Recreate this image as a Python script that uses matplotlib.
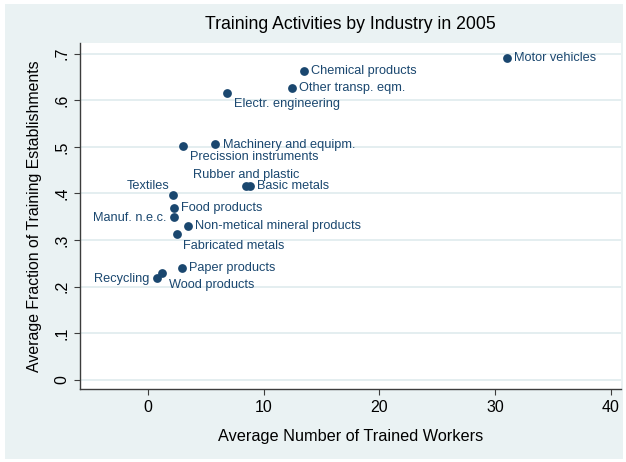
#!/usr/bin/env python3
"""Scatter of training activities by industry, 2005 (Stata s2color look)."""

import matplotlib

matplotlib.use("Agg")

import matplotlib.pyplot as plt
from matplotlib.patches import Rectangle

industries = [
    "Motor vehicles", "Chemical products", "Other transp. eqm.", "Electr. engineering",
    "Machinery and equipm.", "Precission instruments", "Rubber and plastic", "Basic metals",
    "Textiles", "Food products", "Manuf. n.e.c.", "Non-metical mineral products",
    "Fabricated metals", "Paper products", "Wood products", "Recycling",
]
trained_workers = [31.04, 13.44, 12.44, 6.85, 5.79, 3.05, 8.47, 8.84,
                   2.16, 2.25, 2.25, 3.48, 2.47, 2.90, 1.24, 0.74]
frac_training = [0.692, 0.662, 0.627, 0.615, 0.506, 0.501, 0.416, 0.415,
                 0.396, 0.369, 0.349, 0.329, 0.312, 0.240, 0.228, 0.218]

# label placement (clock position style): offset in px and horizontal alignment
label_pos = {
    "Motor vehicles": (7, 0, "left"),
    "Chemical products": (7, 0, "left"),
    "Other transp. eqm.": (7, 0, "left"),
    "Electr. engineering": (6.5, -11, "left"),
    "Machinery and equipm.": (7.5, -1, "left"),
    "Precission instruments": (7, -10.5, "left"),
    "Rubber and plastic": (0, 10.5, "center"),
    "Basic metals": (6.5, 0, "left"),
    "Textiles": (-4, 9.5, "right"),
    "Food products": (7, -0.5, "left"),
    "Manuf. n.e.c.": (-7.5, -1, "right"),
    "Non-metical mineral products": (7, 0, "left"),
    "Fabricated metals": (6.5, -11.5, "left"),
    "Paper products": (7.5, -0.5, "left"),
    "Wood products": (6.3, -11.5, "left"),
    "Recycling": (-7, -0.5, "right"),
}

NAVY = "#1a476f"
BG = "#eaf2f3"
W, H = 626, 462

plt.rcParams["font.family"] = ["Liberation Sans", "DejaVu Sans"]

fig = plt.figure(figsize=(W / 100, H / 100), dpi=100, facecolor="white")
fig.add_artist(Rectangle((5 / W, 3 / H), 618 / W, 455 / H, transform=fig.transFigure,
                         facecolor=BG, edgecolor="none", zorder=-10))

ax = fig.add_axes([80 / W, (H - 389.3) / H, (621 - 80) / W, (389.3 - 43) / H])
ax.set_facecolor("white")

ax.scatter(trained_workers, frac_training, s=40, color=NAVY, zorder=3, linewidths=0)
for name, x, y in zip(industries, trained_workers, frac_training):
    dx, dy, ha = label_pos[name]
    ax.annotate(name, (x, y), xytext=(dx * 0.72, dy * 0.72), textcoords="offset points",
                ha=ha, va="center", fontsize=9.2, color=NAVY, zorder=4)

ax.set_xlim(-5.88, 40.87)
ax.set_ylim(-0.0208, 0.7232)
ax.set_xticks([0, 10, 20, 30, 40])
yt = [0, 0.1, 0.2, 0.3, 0.4, 0.5, 0.6, 0.7]
ax.set_yticks(yt)
ax.set_yticklabels(["0"] + [f".{i}" for i in range(1, 8)], rotation=90, va="center")
ax.grid(axis="y", color="#e4eef0", linewidth=1.4, zorder=1)
ax.set_axisbelow(True)

for side in ("top", "right"):
    ax.spines[side].set_visible(False)
for side in ("left", "bottom"):
    ax.spines[side].set_color("#3c3c3c")
    ax.spines[side].set_linewidth(1.0)
ax.tick_params(axis="both", direction="out", length=4.5, width=0.8, color="#3c3c3c",
               labelsize=11.5, pad=3)

ax.set_xlabel("Average Number of Trained Workers", fontsize=11.7, labelpad=10)
ax.set_ylabel("Average Fraction of Training Establishments", fontsize=11.4, labelpad=9)
ax.set_title("Training Activities by Industry in 2005", fontsize=12.7, pad=10)

fig.savefig("out.png", dpi=100, facecolor=fig.get_facecolor())
